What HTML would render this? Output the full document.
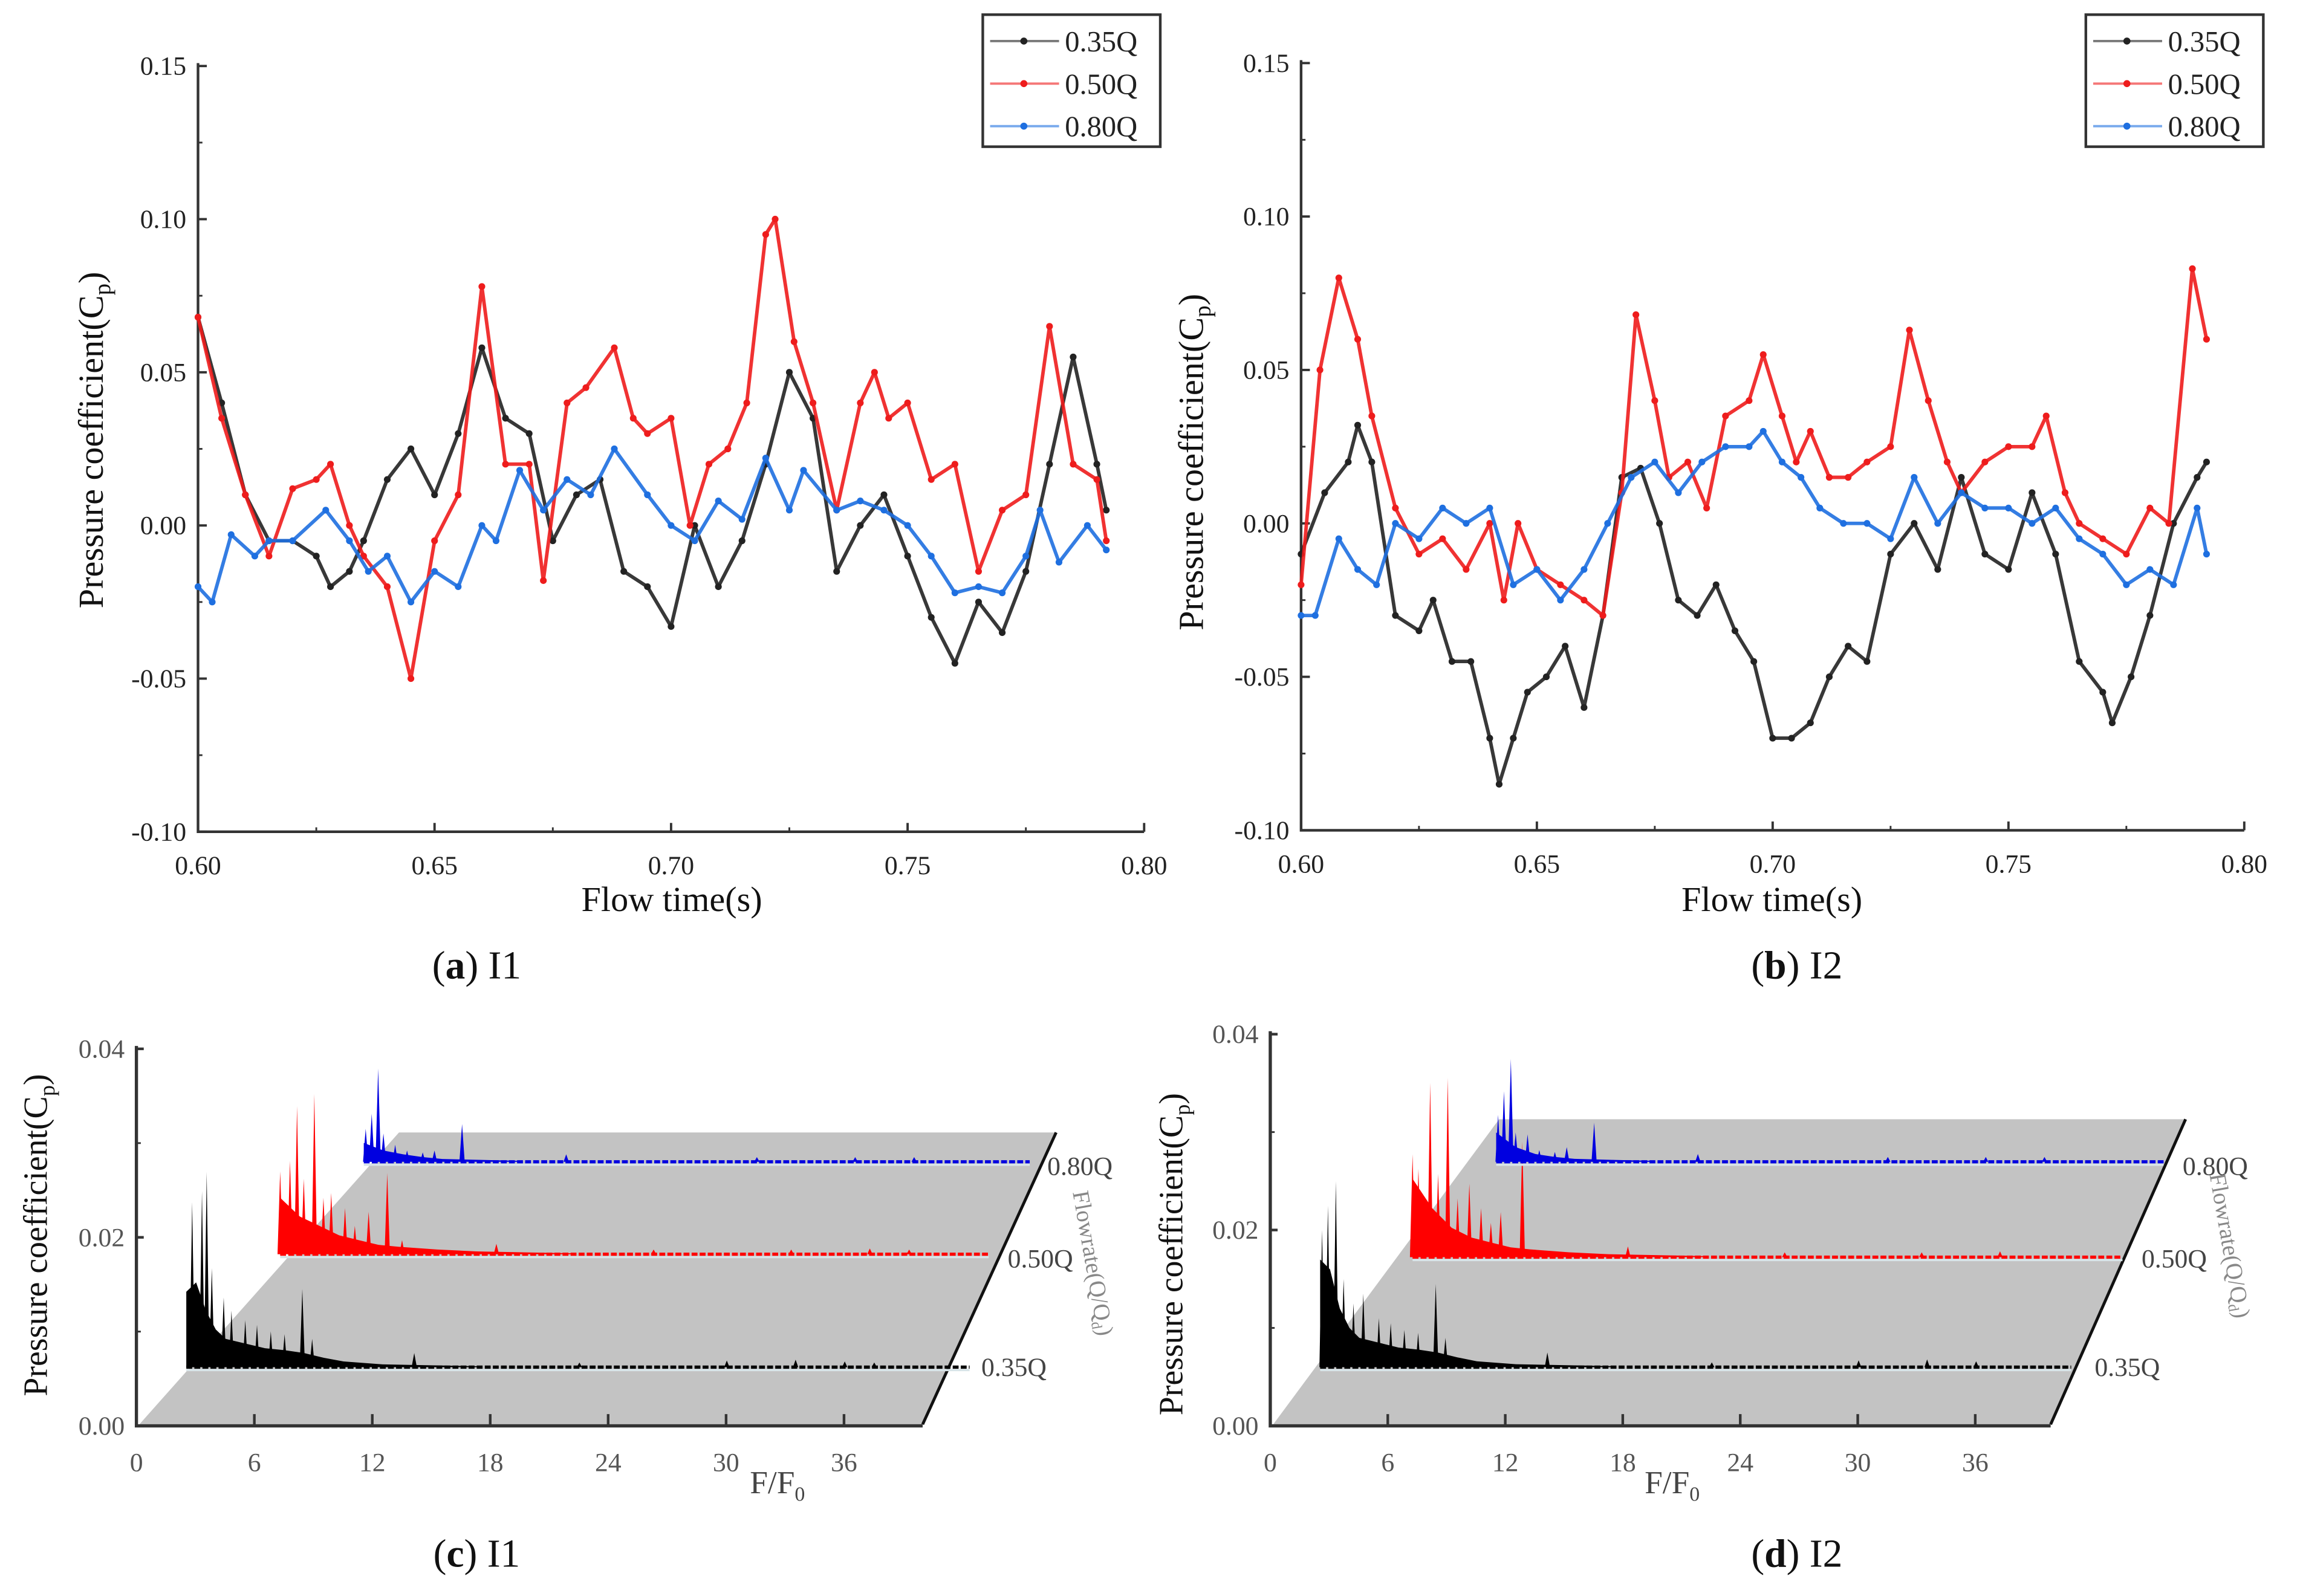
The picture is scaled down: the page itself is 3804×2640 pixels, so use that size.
<!DOCTYPE html>
<html><head><meta charset="utf-8"><style>
html,body{margin:0;padding:0;background:#fff;}
svg{display:block;font-family:"Liberation Serif",serif;}
</style></head><body>
<svg id="fig" width="3804" height="2640" viewBox="0 0 1568 1088" preserveAspectRatio="none" xmlns="http://www.w3.org/2000/svg">
<rect x="0" y="0" width="1568" height="1088" fill="#fff"/>
<g id="layer"></g>
</svg>
<script>
// ---------- Panel (a) I1 time series ----------
const aBlackT=[.600,.605,.610,.615,.620,.625,.628,.632,.635,.640,.645,.650,.655,.660,.665,.670,.675,.680,.685,.690,.695,.700,.705,.710,.715,.720,.725,.730,.735,.740,.745,.750,.755,.760,.765,.770,.775,.780,.785,.790,.792];
const aBlackV=[.068,.04,.01,-.005,-.005,-.01,-.02,-.015,-.005,.015,.025,.01,.03,.058,.035,.03,-.005,.01,.015,-.015,-.02,-.033,0,-.02,-.005,.02,.05,.035,-.015,0,.01,-.01,-.03,-.045,-.025,-.035,-.015,.02,.055,.02,.005];
const aRedT=[.600,.605,.610,.615,.620,.625,.628,.632,.635,.640,.645,.650,.655,.660,.665,.670,.673,.678,.682,.688,.692,.695,.700,.704,.708,.712,.716,.720,.722,.726,.730,.735,.740,.743,.746,.750,.755,.760,.765,.770,.775,.780,.785,.790,.792];
const aRedV=[.068,.035,.01,-.01,.012,.015,.02,0,-.01,-.02,-.05,-.005,.01,.078,.02,.02,-.018,.04,.045,.058,.035,.03,.035,0,.02,.025,.04,.095,.1,.06,.04,.005,.04,.05,.035,.04,.015,.02,-.015,.005,.01,.065,.02,.015,-.005];
const aBlueT=[.600,.603,.607,.612,.615,.620,.627,.632,.636,.640,.645,.650,.655,.660,.663,.668,.673,.678,.683,.688,.695,.700,.705,.710,.715,.720,.725,.728,.735,.740,.745,.750,.755,.760,.765,.770,.775,.778,.782,.788,.792];
const aBlueV=[-.02,-.025,-.003,-.01,-.005,-.005,.005,-.005,-.015,-.01,-.025,-.015,-.02,0,-.005,.018,.005,.015,.01,.025,.01,0,-.005,.008,.002,.022,.005,.018,.005,.008,.005,0,-.01,-.022,-.02,-.022,-.01,.005,-.012,0,-.008];
// ---------- Panel (b) I2 time series ----------
const bBlackT=[.600,.605,.610,.612,.615,.620,.625,.628,.632,.636,.640,.642,.645,.648,.652,.656,.660,.664,.668,.672,.676,.680,.684,.688,.692,.696,.700,.704,.708,.712,.716,.720,.725,.730,.735,.740,.745,.750,.755,.760,.765,.770,.772,.776,.780,.785,.790,.792];
const bBlackV=[-.01,.01,.02,.032,.02,-.03,-.035,-.025,-.045,-.045,-.07,-.085,-.07,-.055,-.05,-.04,-.06,-.03,.015,.018,0,-.025,-.03,-.02,-.035,-.045,-.07,-.07,-.065,-.05,-.04,-.045,-.01,0,-.015,.015,-.01,-.015,.01,-.01,-.045,-.055,-.065,-.05,-.03,0,.015,.02];
const bRedT=[.600,.604,.608,.612,.615,.620,.625,.630,.635,.640,.643,.646,.650,.655,.660,.664,.668,.671,.675,.678,.682,.686,.690,.695,.698,.702,.705,.708,.712,.716,.720,.725,.729,.733,.737,.740,.745,.750,.755,.758,.762,.765,.770,.775,.780,.784,.789,.792];
const bRedV=[-.02,.05,.08,.06,.035,.005,-.01,-.005,-.015,0,-.025,0,-.015,-.02,-.025,-.03,.01,.068,.04,.015,.02,.005,.035,.04,.055,.035,.02,.03,.015,.015,.02,.025,.063,.04,.02,.01,.02,.025,.025,.035,.01,0,-.005,-.01,.005,0,.083,.06];
const bBlueT=[.600,.603,.608,.612,.616,.620,.625,.630,.635,.640,.645,.650,.655,.660,.665,.670,.675,.680,.685,.690,.695,.698,.702,.706,.710,.715,.720,.725,.730,.735,.740,.745,.750,.755,.760,.765,.770,.775,.780,.785,.790,.792];
const bBlueV=[-.03,-.03,-.005,-.015,-.02,0,-.005,.005,0,.005,-.02,-.015,-.025,-.015,0,.015,.02,.01,.02,.025,.025,.03,.02,.015,.005,0,0,-.005,.015,0,.01,.005,.005,0,.005,-.005,-.01,-.02,-.015,-.02,.005,-.01];
const timeTicks=[0.60,0.65,0.70,0.75,0.80];
const cpTicks=[-0.10,-0.05,0.00,0.05,0.10,0.15];
const seriesNames=["0.35Q","0.50Q","0.80Q"];
// ---------- Panels (c)/(d) spectra ----------
const fTicks=[0,6,12,18,24,30,36];
const cBlackF=[0.3,0.8,1.04,1.3,1.9,2.3,3.0,3.6,4.3,5.0,5.9,6.4,11.6,20,27.5,31,33.5,35];
const cBlackA=[0.0175,0.0187,0.0207,0.0105,0.0074,0.006,0.005,0.0045,0.0038,0.0035,0.0083,0.003,0.0015,0.0005,0.0007,0.0008,0.0006,0.0005];
const cBlackFloorF=[0,0.5,1,1.5,2,3,4,5,6,7,8,10,15];
const cBlackFloorA=[0.008,0.009,0.006,0.004,0.003,0.0025,0.002,0.0018,0.0015,0.001,0.0006,0.0003,0.0001];
const cRedF=[0,0.5,0.86,1.2,1.74,2.2,2.6,3.3,3.8,4.5,5.45,6.2,11,19,26,30,32];
const cRedA=[0.0088,0.0099,0.0157,0.008,0.017,0.006,0.0065,0.0049,0.003,0.0045,0.0086,0.0015,0.0011,0.0005,0.0005,0.0006,0.0005];
const cRedFloorF=[0,1,2,3,4,5,6,8,10,15];
const cRedFloorA=[0.006,0.004,0.003,0.002,0.0015,0.001,0.0008,0.0005,0.0003,0.0001];
const cBlueF=[0.1,0.4,0.73,1.0,1.6,2.2,3.0,3.6,5.0,10.3,20,25,28];
const cBlueA=[0.0035,0.0051,0.0099,0.003,0.0018,0.0012,0.001,0.0012,0.004,0.0008,0.0005,0.0005,0.0005];
const cBlueFloorF=[0,1,2,3,4,6,8];
const cBlueFloorA=[0.002,0.0012,0.0008,0.0005,0.0003,0.0002,0.0001];
const dBlackF=[0.1,0.4,0.8,1.2,1.7,2.2,3.0,3.6,4.3,5.0,5.9,6.4,11.6,20,27.5,31,33.5];
const dBlackA=[0.014,0.0165,0.019,0.009,0.0065,0.0075,0.005,0.0045,0.0038,0.0035,0.0085,0.003,0.0015,0.0005,0.0007,0.0008,0.0006];
const dBlackFloorF=[0,0.5,1,1.5,2,3,4,5,6,7,8,10,15];
const dBlackFloorA=[0.011,0.01,0.006,0.004,0.003,0.0025,0.002,0.0018,0.0015,0.001,0.0006,0.0003,0.0001];
const dRedF=[0,0.3,0.9,1.3,1.8,2.3,2.9,3.5,4.0,4.5,5.6,11,19,26,30];
const dRedA=[0.0105,0.009,0.0178,0.0085,0.0183,0.006,0.0075,0.005,0.0035,0.0046,0.0118,0.0011,0.0005,0.0005,0.0006];
const dRedFloorF=[0,1,2,3,4,5,6,8,10,15];
const dRedFloorA=[0.008,0.005,0.003,0.002,0.0015,0.001,0.0008,0.0005,0.0003,0.0001];
const dBlueF=[0.1,0.4,0.75,1.0,1.6,2.2,3.0,3.6,5.0,10.3,20,25,28];
const dBlueA=[0.0048,0.0072,0.0105,0.003,0.0028,0.0012,0.001,0.0015,0.004,0.0008,0.0005,0.0005,0.0005];
const dBlueFloorF=[0,1,2,3,4,6,8];
const dBlueFloorA=[0.003,0.0015,0.0008,0.0005,0.0003,0.0002,0.0001];

const NS="http://www.w3.org/2000/svg";
const root=document.getElementById('layer');
function mk(tag,attrs,parent,text){const e=document.createElementNS(NS,tag);for(const k in attrs)e.setAttribute(k,attrs[k]);if(text!==undefined)e.textContent=text;(parent||root).appendChild(e);return e;}
const COLORS=["#222","#ee1c1c","#1e6fe0"];

function timePanel(id,X0,X1,Y15,Yn10,seriesT,seriesV,legX,ylabX,ylabY,xlabX,capX,capLetter,capName){
  const g=mk('g',{});
  
  
  const xs=t=>X0+(t-0.6)/0.2*(X1-X0);
  const ys=v=>Yn10-(v+0.10)/0.25*(Yn10-Y15);
  const ax=mk('path',{d:`M${X0},${Y15-2}V${Yn10}H${X1}`,fill:'none',stroke:'#333','stroke-width':1.8},g);
  
  
  cpTicks.forEach(v=>{const y=ys(v);mk('line',{x1:X0,x2:X0+6,y1:y,y2:y,stroke:'#333','stroke-width':1.6},g);
    const t=mk('text',{x:X0-8,y:y+6,'text-anchor':'end','font-size':18,fill:'#222'},g,v.toFixed(2));
    });
  for(let i=0;i<cpTicks.length-1;i++){const y=ys(cpTicks[i]+0.025);mk('line',{x1:X0,x2:X0+3,y1:y,y2:y,stroke:'#333','stroke-width':1.2},g);}
  timeTicks.forEach(t=>{const x=xs(t);mk('line',{x1:x,x2:x,y1:Yn10,y2:Yn10-6,stroke:'#333','stroke-width':1.6},g);
    const tx=mk('text',{x:x,y:Yn10+29,'text-anchor':'middle','font-size':18,fill:'#222'},g,t.toFixed(2));
    });
  for(let i=0;i<timeTicks.length-1;i++){const x=xs(timeTicks[i]+0.025);mk('line',{x1:x,x2:x,y1:Yn10,y2:Yn10-3,stroke:'#333','stroke-width':1.2},g);}
  seriesT.forEach((T,si)=>{
    const V=seriesV[si];
    const pts=T.map((t,i)=>xs(t).toFixed(1)+','+ys(V[i]).toFixed(1)).join(' ');
    const pl=mk('polyline',{points:pts,fill:'none',stroke:COLORS[si],'stroke-width':2.4,'stroke-opacity':0.9,'stroke-linejoin':'round'},g);
    
    
    T.forEach((t,i)=>mk('circle',{cx:xs(t),cy:ys(V[i]),r:2.3,fill:COLORS[si]},g));
  });
  const lg=mk('g',{},g);
  
  
  mk('rect',{x:legX,y:10,width:121,height:90,fill:'#fff',stroke:'#333','stroke-width':1.8},lg);
  seriesNames.forEach((n,i)=>{const y=28+i*29;
    mk('line',{x1:legX+5,x2:legX+52,y1:y,y2:y,stroke:COLORS[i],'stroke-width':1.6,'stroke-opacity':0.6},lg);
    mk('circle',{cx:legX+28,cy:y,r:2.4,fill:COLORS[i]},lg);
    const t=mk('text',{x:legX+56,y:y+7,'font-size':20,fill:'#222'},lg,n);
    });
  const yl=mk('text',{x:0,y:0,transform:`translate(${ylabX},${ylabY}) rotate(-90)`,'text-anchor':'middle','font-size':24,fill:'#111'},g);
  
  yl.innerHTML='Pressure  coefficient(C<tspan font-size="16" dy="5">p</tspan><tspan dy="-5">)</tspan>';
  const xl=mk('text',{x:xlabX,y:621,'text-anchor':'middle','font-size':24,fill:'#111'},g,'Flow time(s)');
  
  const cap=mk('text',{x:capX,y:667,'text-anchor':'middle','font-size':27,fill:'#111'},g);
  
  cap.innerHTML=`(<tspan font-weight="bold">${capLetter}</tspan>) ${capName}`;
}
timePanel('a',135,780,45,567,[aBlackT,aRedT,aBlueT],[aBlackV,aRedV,aBlueV],670,70,300,458,325,'a','I1');
timePanel('b',887,1530,43,566,[bBlackT,bRedT,bBlueT],[bBlackV,bRedV,bBlueV],1422,820,315,1208,1225,'b','I2');

function specPanel(id,cfg){
  const g=mk('g',{});
  
  
  const {X0,fx,Ybot,ay,plane,series,labels,flowX,flowY,ylabX,ylabY,fLabX,capX,capName}=cfg;
  const pl=mk('polygon',{points:plane.map(p=>p.join(',')).join(' '),fill:'#c3c3c3'},g);
  
  mk('line',{x1:plane[1][0],y1:plane[1][1],x2:plane[2][0],y2:plane[2][1],stroke:'#111','stroke-width':2},g);
  const ax=mk('path',{d:`M${X0},${Ybot-0.04*ay-2}V${Ybot}H${plane[1][0]}`,fill:'none',stroke:'#333','stroke-width':2.2},g);
  
  [0,0.02,0.04].forEach(v=>{const y=Ybot-v*ay;mk('line',{x1:X0,x2:X0+5,y1:y,y2:y,stroke:'#333','stroke-width':1.8},g);
    const t=mk('text',{x:X0-8,y:y+6,'text-anchor':'end','font-size':18,fill:'#555'},g,v.toFixed(2));
    });
  [0.01,0.03].forEach(v=>{const y=Ybot-v*ay;mk('line',{x1:X0,x2:X0+3,y1:y,y2:y,stroke:'#333','stroke-width':1.2},g);});
  fTicks.forEach(f=>{const x=X0+f*fx;mk('line',{x1:x,x2:x,y1:Ybot,y2:Ybot-8,stroke:'#333','stroke-width':1.8},g);
    const t=mk('text',{x:x,y:Ybot+31,'text-anchor':'middle','font-size':18,fill:'#555'},g,String(f));
    });
  series.forEach((s,si)=>{
    const sg=mk('g',{},g);
    
    
    const col=si===0?'#000':(si===1?'#ff0000':'#0000e0');
    let d=`M${s.x0},${s.y0}`;
    s.floorF.forEach((f,i)=>{d+=`L${(s.x0+f*fx).toFixed(1)},${(s.y0-s.floorA[i]*ay).toFixed(1)}`;});
    d+=`L${(s.x0+s.floorF[s.floorF.length-1]*fx).toFixed(1)},${s.y0}Z`;
    mk('path',{d:d,fill:col},sg);
    s.pf.forEach((f,i)=>{const x=s.x0+f*fx,h=s.pa[i]*ay;
      mk('path',{d:`M${(x-1.8).toFixed(1)},${s.y0}L${x.toFixed(1)},${(s.y0-h).toFixed(1)}L${(x+1.8).toFixed(1)},${s.y0}Z`,fill:col},sg);});
    mk('line',{x1:s.x0,x2:s.x1,y1:s.y0,y2:s.y0,stroke:col,'stroke-width':2.2,'stroke-dasharray':'4 1.5'},sg);
    mk('line',{x1:s.x0,x2:s.x1,y1:s.y0+2,y2:s.y0+2,stroke:'#d8e4e8','stroke-width':1.5},sg);
    const t=mk('text',{x:labels[si][0],y:labels[si][1]+6,'font-size':18,fill:'#444'},sg,seriesNames[si]);
    
  });
  const fl=mk('text',{x:0,y:0,transform:`translate(${flowX},${flowY}) rotate(80)`,'text-anchor':'middle','font-size':16,fill:'#888'},g);
  
  fl.innerHTML='Flowrate(Q/Q<tspan font-size="10" dy="3">d</tspan><tspan dy="-3">)</tspan>';
  const yl=mk('text',{x:0,y:0,transform:`translate(${ylabX},${ylabY}) rotate(-90)`,'text-anchor':'middle','font-size':23,fill:'#111'},g);
  
  yl.innerHTML='Pressure  coefficient(C<tspan font-size="15" dy="5">p</tspan><tspan dy="-5">)</tspan>';
  const xl=mk('text',{x:fLabX,y:1018,'text-anchor':'middle','font-size':22,fill:'#444'},g);
  
  xl.innerHTML='F/F<tspan font-size="14" dy="5">0</tspan>';
  const cap=mk('text',{x:capX,y:1068,'text-anchor':'middle','font-size':27,fill:'#111'},g);
  
  cap.innerHTML=`(<tspan font-weight="bold">${id}</tspan>) ${capName}`;
}
specPanel('c',{X0:93,fx:13.4,Ybot:972,ay:6425,
  plane:[[95,971],[629,971],[720,772],[272,772]],
  series:[{x0:127,x1:661,y0:932,pf:cBlackF,pa:cBlackA,floorF:cBlackFloorF,floorA:cBlackFloorA},
          {x0:191,x1:674,y0:855,pf:cRedF,pa:cRedA,floorF:cRedFloorF,floorA:cRedFloorA},
          {x0:248,x1:702,y0:792,pf:cBlueF,pa:cBlueA,floorF:cBlueFloorF,floorA:cBlueFloorA}],
  labels:[[669,932],[687,858],[714,795]],flowX:740,flowY:862,ylabX:32,ylabY:842,fLabX:530,capX:325,capName:'I1'});
specPanel('d',{X0:866,fx:13.35,Ybot:972,ay:6675,
  plane:[[868,971],[1398,971],[1490,763],[1022,763]],
  series:[{x0:900,x1:1412,y0:932,pf:dBlackF,pa:dBlackA,floorF:dBlackFloorF,floorA:dBlackFloorA},
          {x0:963,x1:1447,y0:857,pf:dRedF,pa:dRedA,floorF:dRedFloorF,floorA:dRedFloorA},
          {x0:1020,x1:1475,y0:792,pf:dBlueF,pa:dBlueA,floorF:dBlueFloorF,floorA:dBlueFloorA}],
  labels:[[1428,932],[1460,858],[1488,795]],flowX:1515,flowY:850,ylabX:806,ylabY:855,fLabX:1140,capX:1225,capName:'I2'});
</script>
</body></html>
